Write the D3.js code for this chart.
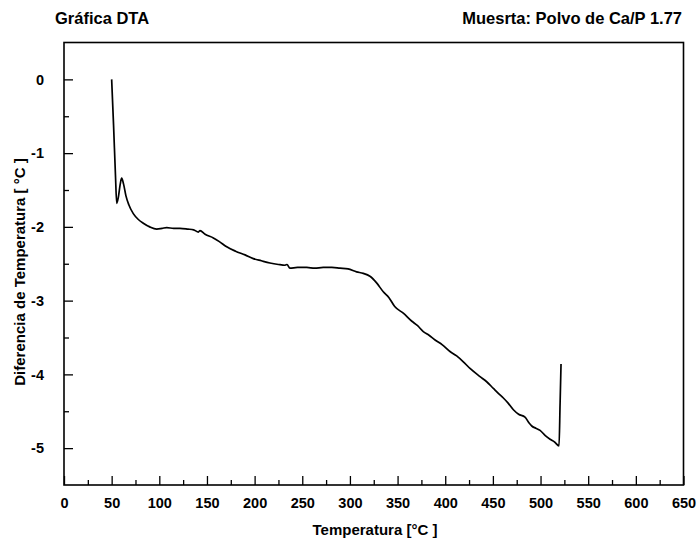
<!DOCTYPE html>
<html>
<head>
<meta charset="utf-8">
<script src="https://cdn.jsdelivr.net/npm/d3@7"></script>
<style>
  html, body { margin: 0; padding: 0; background: #fff; }
  svg { display: block; }
  text { font-family: "Liberation Sans", Arial, Helvetica, sans-serif; font-weight: bold; fill: #000; }
</style>
</head>
<body>
<svg id="chart" width="698" height="541"></svg>
<script>
// ---- data ----
const titleLeft = "Gráfica DTA";
const titleRight = "Muesrta: Polvo de Ca/P 1.77";
const xLabel = "Temperatura [°C ]";
const yLabel = "Diferencia de Temperatura [ °C ]";

const xTicks = [0, 50, 100, 150, 200, 250, 300, 350, 400, 450, 500, 550, 600, 650];
const yTicks = [0, -1, -2, -3, -4, -5];

const temperature = [
  50, 52, 54, 55.3, 57, 59, 60.5, 62.5, 65, 68, 72.7, 78, 83.2, 90, 97.3,
  103, 107.8, 115, 121.7, 130, 136, 141, 142.7, 148, 156.7, 163, 170.7, 180,
  190, 198.6, 207, 216, 225, 232, 234, 237, 245, 254.7, 263, 272, 281, 289.6,
  298, 307, 314, 321, 328, 335, 341, 347, 356, 365, 371, 377, 383, 389, 397,
  405, 412, 419, 426, 436.5, 443.5, 450.5, 456, 461, 466, 471.5, 477, 483.7,
  488, 490.8, 495, 499.5, 505, 510, 515, 519.4, 520.5, 521.5
];
const deltaT = [
  0, -0.62, -1.3, -1.68, -1.6, -1.42, -1.34, -1.42, -1.58, -1.7, -1.82, -1.9, -1.95, -2.0, -2.03,
  -2.02, -2.01, -2.02, -2.02, -2.03, -2.04, -2.07, -2.05, -2.1, -2.15, -2.2, -2.27, -2.33,
  -2.38, -2.43, -2.46, -2.49, -2.51, -2.52, -2.51, -2.56, -2.55, -2.55, -2.56, -2.55, -2.55, -2.56,
  -2.57, -2.61, -2.63, -2.67, -2.76, -2.88, -2.96, -3.08, -3.17, -3.28, -3.34, -3.42, -3.47, -3.53, -3.6,
  -3.69, -3.75, -3.83, -3.92, -4.03, -4.1, -4.19, -4.26, -4.32, -4.39, -4.48, -4.54, -4.58,
  -4.66, -4.7, -4.73, -4.76, -4.83, -4.88, -4.92, -4.97, -4.4, -3.86
];

// ---- layout ----
const svg = d3.select("#chart");
const L = 64, R = 683.5, T = 42.5, B = 485;

const x = d3.scaleLinear().domain([0, 650]).range([L, R]);
const y = d3.scaleLinear().domain([-5.5, 0.5]).range([B, T]);

// frame
svg.append("rect")
  .attr("x", L).attr("y", T).attr("width", R - L).attr("height", B - T)
  .attr("fill", "none").attr("stroke", "#000").attr("stroke-width", 1.6);

const tickFont = "14.5px";

// x axis ticks (inward)
const xMinor = d3.range(25, 650, 50);
const gx = svg.append("g").attr("transform", `translate(0,${B})`);
gx.call(d3.axisBottom(x).tickValues(xTicks).tickSizeInner(-9).tickSizeOuter(0).tickFormat(d3.format("d")));
gx.select(".domain").remove();
gx.selectAll(".tick line").attr("stroke", "#000").attr("stroke-width", 1.3);
gx.selectAll(".tick text").attr("y", 13).attr("dy", "0.71em")
  .style("font-size", tickFont).style("font-family", "'Liberation Sans', Arial, sans-serif").style("font-weight", "bold");
const gxm = svg.append("g").attr("transform", `translate(0,${B})`);
gxm.call(d3.axisBottom(x).tickValues(xMinor).tickSizeInner(-5).tickSizeOuter(0).tickFormat(""));
gxm.select(".domain").remove();
gxm.selectAll(".tick line").attr("stroke", "#000").attr("stroke-width", 1.3);

// y axis ticks (inward)
const yMinor = [-0.5, -1.5, -2.5, -3.5, -4.5];
const gy = svg.append("g").attr("transform", `translate(${L},0)`);
gy.call(d3.axisLeft(y).tickValues(yTicks).tickSizeInner(-9).tickSizeOuter(0).tickFormat(d => d === 0 ? "0" : "-" + Math.abs(d)));
gy.select(".domain").remove();
gy.selectAll(".tick line").attr("stroke", "#000").attr("stroke-width", 1.3);
gy.selectAll(".tick text").attr("x", -20)
  .style("font-size", tickFont).style("font-family", "'Liberation Sans', Arial, sans-serif").style("font-weight", "bold");
const gym = svg.append("g").attr("transform", `translate(${L},0)`);
gym.call(d3.axisLeft(y).tickValues(yMinor).tickSizeInner(-5).tickSizeOuter(0).tickFormat(""));
gym.select(".domain").remove();
gym.selectAll(".tick line").attr("stroke", "#000").attr("stroke-width", 1.3);

// curve
const pts = temperature.map((t, i) => [t, deltaT[i]]);
svg.append("path")
  .datum(pts)
  .attr("fill", "none")
  .attr("stroke", "#000")
  .attr("stroke-width", 1.7)
  .attr("stroke-linejoin", "round")
  .attr("d", d3.line().x(d => x(d[0])).y(d => y(d[1])).curve(d3.curveMonotoneX));

// titles
svg.append("text").attr("x", 55).attr("y", 24).style("font-size", "16.5px").text(titleLeft);
svg.append("text").attr("x", 682).attr("y", 24).attr("text-anchor", "end").style("font-size", "16.5px").text(titleRight);
svg.append("text").attr("x", 375).attr("y", 535).attr("text-anchor", "middle").style("font-size", "15px").text(xLabel);
svg.append("text").attr("transform", "translate(25,272) rotate(-90)").attr("text-anchor", "middle").style("font-size", "15px").text(yLabel);
</script>
</body>
</html>
